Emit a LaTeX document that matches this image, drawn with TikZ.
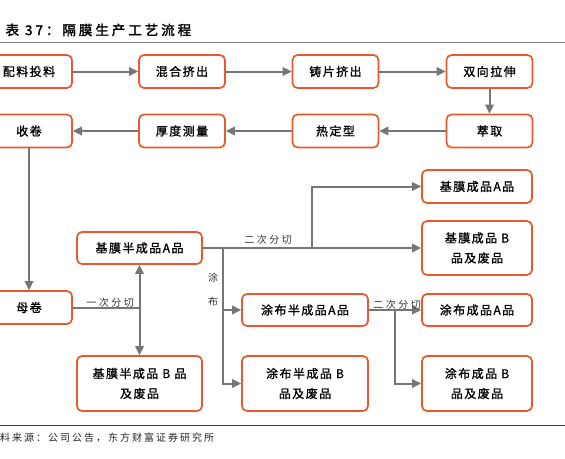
\documentclass[tikz,border=0pt]{standalone}
\usepackage{fontspec}
\usepackage{tikz}
\usetikzlibrary{arrows.meta}
\newfontfamily\cjkbox[LetterSpace=12,FakeBold=1.2]{Noto Sans CJK SC}
\newfontfamily\cjktitle[LetterSpace=22,FakeBold=2]{Noto Sans CJK SC}
\newfontfamily\cjklabel[LetterSpace=25]{Noto Sans CJK SC}
\newfontfamily\cjksource[LetterSpace=20]{Noto Sans CJK SC}
\definecolor{BoxOrange}{RGB}{232,90,45}
\definecolor{LineGray}{RGB}{118,118,118}
\definecolor{RuleGray}{RGB}{128,128,128}
\definecolor{RuleDark}{RGB}{60,60,60}

\begin{document}
\begin{tikzpicture}[x=1pt,y=-1pt,>={Triangle[length=9pt,width=8.5pt]},
    stepbox/.style={draw=BoxOrange,line width=1.7pt,rounded corners=5pt,fill=white,
      font=\cjkbox\fontsize{12}{20}\selectfont,align=center,inner sep=0pt,
      minimum width=86pt,minimum height=33pt},
    flow/.style={->,LineGray,line width=2pt},
    cutlabel/.style={font=\cjklabel\fontsize{10}{12}\selectfont,text=black!80,inner sep=0pt}]
      \path[use as bounding box,fill=white] (0,0) rectangle (565,458);
      \node[anchor=west,font=\cjktitle\fontsize{13.5}{15}\selectfont] (title) at (2,30) {表 37：隔膜生产工艺流程};
      \draw[RuleGray,line width=1pt] (0,42)--(565,42);
      \node[stepbox] (peiliao) at (29,71.5) {配料投料};
      \node[stepbox] (hunhe) at (182,71.5) {混合挤出};
      \node[stepbox] (zhupian) at (335.5,71.5) {铸片挤出};
      \node[stepbox] (lashen) at (489.5,71.5) {双向拉伸};
      \node[stepbox] (cuiqu) at (489.5,131) {萃取};
      \node[stepbox] (dingxing) at (335.5,131) {热定型};
      \node[stepbox] (houdu) at (182,131) {厚度测量};
      \node[stepbox] (shoujuan) at (29,131) {收卷};
      \node[stepbox] (mujuan) at (29,307.5) {母卷};
      \node[stepbox,minimum width=125pt,minimum height=32pt] (jimoA) at (139.5,248) {基膜半成品A品};
      \node[stepbox,minimum width=125pt,minimum height=55pt] (jimoB) at (139.5,383.5) {基膜半成品 B 品\\及废品};
      \node[stepbox,minimum width=126pt,minimum height=32pt] (tubuA) at (305,310) {涂布半成品A品};
      \node[stepbox,minimum width=126pt,minimum height=55pt] (tubuB) at (305,383.5) {涂布半成品 B\\品及废品};
      \node[stepbox,minimum width=110pt] (jmA) at (477,186.5) {基膜成品A品};
      \node[stepbox,minimum width=110pt,minimum height=54pt] (jmB) at (477,248) {基膜成品 B\\品及废品};
      \node[stepbox,minimum width=110pt,minimum height=32pt] (tbA) at (477,310) {涂布成品A品};
      \node[stepbox,minimum width=110pt,minimum height=55pt] (tbB) at (477,383.5) {涂布成品 B\\品及废品};
      \coordinate (cut1) at (jimoA.south |- mujuan.east);
      \coordinate (cut2) at (312,248);
      \coordinate (coat) at (223,248);
      \coordinate (cut3) at (395,310);
      \draw[flow] (peiliao)--(hunhe);
      \draw[flow] (hunhe)--(zhupian);
      \draw[flow] (zhupian)--(lashen);
      \draw[flow] (lashen)--(cuiqu);
      \draw[flow] (cuiqu)--(dingxing);
      \draw[flow] (dingxing)--(houdu);
      \draw[flow] (houdu)--(shoujuan);
      \draw[flow] (shoujuan)--(mujuan);
      \draw[LineGray,line width=2pt] (mujuan)--(cut1);
      \draw[flow] (cut1)--(jimoA);
      \draw[flow] (cut1)--(jimoB);
      \draw[flow] (jimoA)--(jmB);
      \draw[flow] (cut2)|-(jmA);
      \draw[flow] (coat)|-(tubuA);
      \draw[flow] (coat)|-(tubuB);
      \draw[flow] (tubuA)--(tbA);
      \draw[flow] (cut3)|-(tbB);
      \node[cutlabel] (cutone) at (110,303) {一次分切};
      \node[cutlabel] (cuttwo) at (268,240) {二次分切};
      \node[cutlabel] (cutthree) at (397,305) {二次分切};
      \node[cutlabel,align=center,font=\cjklabel\fontsize{10}{24}\selectfont] (coatlbl) at (213,290) {涂\\布};
      \draw[RuleDark,line width=1pt] (0,425)--(565,425);
      \node[anchor=west,font=\cjksource\fontsize{10}{12}\selectfont,text=black!85,inner sep=0pt] (source) at (0,438) {料来源：公司公告，东方财富证券研究所};
    \end{tikzpicture}
\end{document}
